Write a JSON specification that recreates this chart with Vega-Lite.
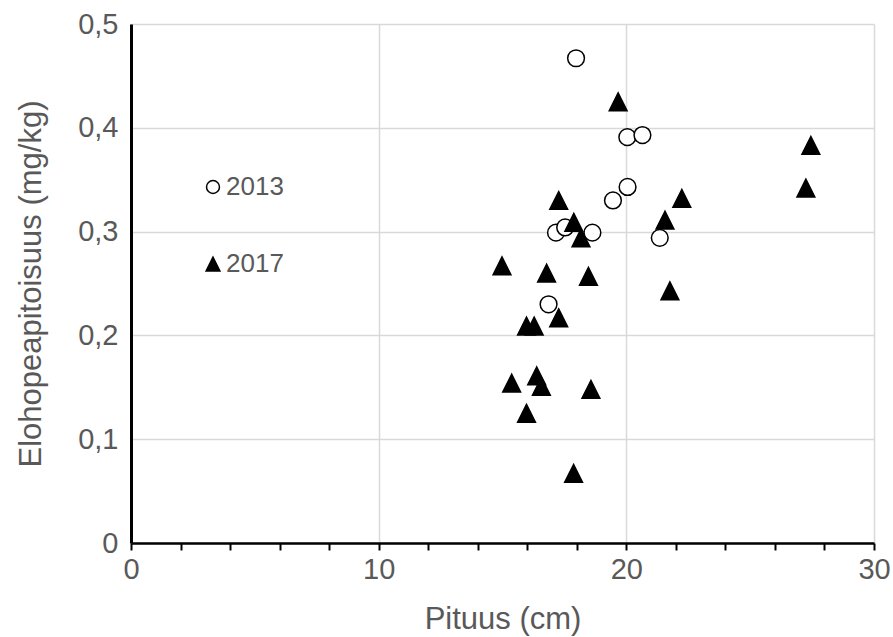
{
  "$schema": "https://vega.github.io/schema/vega-lite/v6.json",
  "width": 743,
  "height": 519,
  "autosize": "none",
  "padding": {"left": 131, "top": 24, "right": 19, "bottom": 94},
  "background": "white",
  "config": {"view": {"stroke": null}, "font": "Liberation Sans"},
  "data": {
    "values": [
      {"vuosi": "2013", "pituus": 17.97, "hg": 0.467},
      {"vuosi": "2013", "pituus": 20.04, "hg": 0.391},
      {"vuosi": "2013", "pituus": 20.65, "hg": 0.393},
      {"vuosi": "2013", "pituus": 20.05, "hg": 0.343},
      {"vuosi": "2013", "pituus": 19.46, "hg": 0.330},
      {"vuosi": "2013", "pituus": 17.16, "hg": 0.299},
      {"vuosi": "2013", "pituus": 17.53, "hg": 0.304},
      {"vuosi": "2013", "pituus": 18.63, "hg": 0.299},
      {"vuosi": "2013", "pituus": 21.35, "hg": 0.294},
      {"vuosi": "2013", "pituus": 16.86, "hg": 0.230},
      {"vuosi": "2017", "pituus": 14.98, "hg": 0.267},
      {"vuosi": "2017", "pituus": 16.78, "hg": 0.260},
      {"vuosi": "2017", "pituus": 18.47, "hg": 0.257},
      {"vuosi": "2017", "pituus": 17.27, "hg": 0.217},
      {"vuosi": "2017", "pituus": 15.97, "hg": 0.209},
      {"vuosi": "2017", "pituus": 16.28, "hg": 0.209},
      {"vuosi": "2017", "pituus": 15.37, "hg": 0.154},
      {"vuosi": "2017", "pituus": 16.38, "hg": 0.161},
      {"vuosi": "2017", "pituus": 16.57, "hg": 0.151},
      {"vuosi": "2017", "pituus": 18.57, "hg": 0.148},
      {"vuosi": "2017", "pituus": 15.97, "hg": 0.125},
      {"vuosi": "2017", "pituus": 17.87, "hg": 0.067},
      {"vuosi": "2017", "pituus": 19.67, "hg": 0.425},
      {"vuosi": "2017", "pituus": 17.27, "hg": 0.330},
      {"vuosi": "2017", "pituus": 17.88, "hg": 0.309},
      {"vuosi": "2017", "pituus": 18.17, "hg": 0.294},
      {"vuosi": "2017", "pituus": 22.24, "hg": 0.332},
      {"vuosi": "2017", "pituus": 21.56, "hg": 0.311},
      {"vuosi": "2017", "pituus": 21.76, "hg": 0.243},
      {"vuosi": "2017", "pituus": 27.45, "hg": 0.383},
      {"vuosi": "2017", "pituus": 27.25, "hg": 0.342}
    ]
  },
  "mark": {"type": "point", "filled": true, "stroke": "black", "strokeWidth": 1.5, "size": 317, "opacity": 1},
  "encoding": {
    "x": {
      "field": "pituus",
      "type": "quantitative",
      "scale": {"domain": [0, 30], "nice": false, "zero": false},
      "axis": {
        "values": [0, 2, 4, 6, 8, 10, 12, 14, 16, 18, 20, 22, 24, 26, 28, 30],
        "labelExpr": "datum.value % 10 === 0 ? datum.label : ''",
        "grid": true,
        "gridColor": "#d9d9d9",
        "gridWidth": 1.5,
        "gridOpacity": {"condition": {"test": "datum.value % 10 === 0", "value": 1}, "value": 0},
        "domainColor": "black",
        "domainWidth": 2.5,
        "tickColor": "black",
        "tickWidth": 2,
        "tickSize": 7,
        "labelFontSize": 29,
        "labelColor": "#595959",
        "labelPadding": 5,
        "labelOverlap": false,
        "labelFlush": false,
        "title": "Pituus (cm)",
        "titleFontSize": 31,
        "titleFontWeight": "normal",
        "titleColor": "#595959",
        "titlePadding": 20
      }
    },
    "y": {
      "field": "hg",
      "type": "quantitative",
      "scale": {"domain": [0, 0.5], "nice": false},
      "axis": {
        "values": [0, 0.1, 0.2, 0.3, 0.4, 0.5],
        "labelExpr": "datum.value == 0 ? '0' : replace(format(datum.value, '.1f'), '.', ',')",
        "grid": true,
        "gridColor": "#d9d9d9",
        "gridWidth": 1.5,
        "domainColor": "black",
        "domainWidth": 3,
        "ticks": false,
        "labelFontSize": 29,
        "labelColor": "#595959",
        "labelPadding": 13,
        "labelOverlap": false,
        "labelFlush": false,
        "title": "Elohopeapitoisuus (mg/kg)",
        "titleFontSize": 31,
        "titleFontWeight": "normal",
        "titleColor": "#595959",
        "titlePadding": 30
      }
    },
    "shape": {
      "field": "vuosi",
      "type": "nominal",
      "scale": {
        "domain": ["2013", "2017"],
        "range": ["M0.94,0A0.94,0.94,0,1,1,-0.94,0A0.94,0.94,0,1,1,0.94,0Z", "M0,-1L-1,1L1,1Z"]
      },
      "legend": {
        "title": null,
        "orient": "none",
        "legendX": 69,
        "legendY": 150,
        "padding": 0,
        "symbolSize": 190,
        "labelFontSize": 26,
        "labelColor": "#595959",
        "labelOffset": 0,
        "rowPadding": 51,
        "encode": {"symbols": {"update": {"stroke": {"value": "black"}, "strokeWidth": {"value": 1.5}, "opacity": {"value": 1}}}}
      }
    },
    "fill": {
      "field": "vuosi",
      "type": "nominal",
      "scale": {"domain": ["2013", "2017"], "range": ["white", "black"]},
      "legend": {
        "title": null,
        "orient": "none",
        "legendX": 69,
        "legendY": 150,
        "padding": 0,
        "symbolSize": 190,
        "labelFontSize": 26,
        "labelColor": "#595959",
        "labelOffset": 0,
        "rowPadding": 51,
        "encode": {"symbols": {"update": {"stroke": {"value": "black"}, "strokeWidth": {"value": 1.5}, "opacity": {"value": 1}}}}
      }
    }
  }
}
